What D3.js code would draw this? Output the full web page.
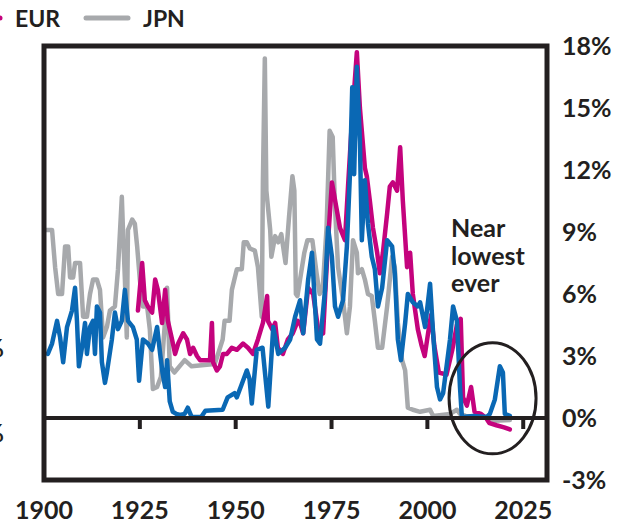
<!DOCTYPE html>
<html>
<head>
<meta charset="utf-8">
<script src="https://cdn.jsdelivr.net/npm/d3@7"></script>
<style>
  body { margin: 0; background: #fff; }
  svg { display: block; font-family: Lato, "Open Sans", sans-serif; font-weight: 700; }
</style>
</head>
<body>
<div id="chart"></div>
<script>
const width = 629
const height = 529

// short-term rates, %
const usaYears = [1901.0, 1902.1, 1903.4, 1904.2, 1905.0, 1906.0, 1907.3, 1908.1, 1908.6, 1909.1, 1909.9, 1910.7, 1911.2, 1912.0, 1912.8, 1913.3, 1913.8, 1914.6, 1915.1, 1915.9, 1916.4, 1917.7, 1918.5, 1919.3, 1920.3, 1921.1, 1921.9, 1923.2, 1924.2, 1924.8, 1925.8, 1927.1, 1928.2, 1929.5, 1930.3, 1930.9, 1931.6, 1932.1, 1932.8, 1933.6, 1934.5, 1935.5, 1936.7, 1937.5, 1938.5, 1941.0, 1942.1, 1946.6, 1947.9, 1949.7, 1950.3, 1951.5, 1952.9, 1953.6, 1954.2, 1955.5, 1957.0, 1958.5, 1959.8, 1961.1, 1962.9, 1964.2, 1965.5, 1966.8, 1967.6, 1968.9, 1969.9, 1971.2, 1972.0, 1973.3, 1974.1, 1975.1, 1975.9, 1976.7, 1978.0, 1979.0, 1979.8, 1980.4, 1980.9, 1981.6, 1982.4, 1982.9, 1983.7, 1984.5, 1985.5, 1986.3, 1987.1, 1988.2, 1989.5, 1990.8, 1991.5, 1992.3, 1993.1, 1994.2, 1994.9, 1996.2, 1997.5, 1998.1, 1999.4, 2000.7, 2001.5, 2002.5, 2003.3, 2004.1, 2005.9, 2006.7, 2007.7, 2008.5, 2009.0, 2012.0, 2015.5, 2016.3, 2017.6, 2018.9, 2019.7, 2020.2, 2021.5]
const usaRates = [3.1, 3.6, 4.7, 3.9, 2.7, 4.4, 5.2, 6.3, 4.7, 2.5, 3.4, 4.6, 3.1, 4.4, 4.7, 3.1, 5.4, 5.1, 2.7, 1.7, 2.2, 3.8, 5.1, 4.3, 4.7, 6.2, 4.7, 4.4, 3.8, 1.8, 3.8, 3.6, 3.3, 4.4, 3.1, 2.2, 1.5, 2.8, 0.8, 0.3, 0.2, 0.15, 0.2, 0.5, 0.05, 0.05, 0.35, 0.4, 1.0, 1.2, 1.0, 1.6, 2.3, 1.9, 0.7, 3.3, 3.4, 0.55, 4.4, 3.1, 3.4, 3.8, 4.9, 5.7, 4.1, 6.7, 8.0, 3.8, 3.6, 6.2, 9.2, 7.8, 5.4, 4.9, 5.7, 8.3, 11.8, 16.0, 11.8, 17.0, 13.4, 8.6, 11.5, 9.4, 7.8, 7.2, 5.4, 6.3, 8.6, 8.3, 7.0, 3.8, 2.8, 4.6, 6.0, 5.6, 5.4, 5.6, 4.4, 6.5, 4.1, 1.5, 0.9, 1.2, 3.8, 5.4, 4.7, 1.5, 0.05, 0.1, 0.05, 0.2, 0.9, 2.5, 2.2, 0.2, 0.1]

const eurYears = [1924.5, 1925.6, 1926.3, 1927.1, 1928.2, 1929.0, 1929.7, 1930.8, 1931.6, 1932.3, 1933.4, 1934.2, 1935.0, 1936.3, 1937.3, 1938.1, 1938.9, 1939.9, 1940.7, 1943.3, 1943.8, 1944.1, 1945.1, 1945.9, 1946.7, 1947.7, 1949.0, 1950.3, 1951.9, 1953.2, 1954.5, 1955.8, 1957.1, 1958.2, 1958.4, 1959.5, 1960.3, 1961.0, 1962.3, 1963.6, 1964.9, 1966.2, 1966.8, 1967.6, 1968.9, 1970.2, 1971.5, 1972.8, 1974.1, 1975.1, 1977.2, 1978.5, 1979.3, 1980.3, 1981.6, 1982.4, 1983.7, 1984.2, 1985.0, 1985.8, 1986.9, 1987.6, 1988.4, 1989.5, 1990.2, 1991.0, 1992.1, 1992.9, 1993.6, 1994.7, 1995.5, 1996.2, 1997.5, 1998.5, 1999.3, 2000.5, 2001.0, 2001.8, 2003.0, 2005.0, 2006.5, 2007.7, 2008.7, 2009.3, 2010.3, 2011.4, 2012.3, 2014.0, 2015.3, 2016.2, 2018.0, 2020.0, 2021.5]
const eurRates = [5.2, 7.5, 5.7, 5.4, 5.1, 6.7, 6.2, 4.6, 6.2, 4.7, 3.8, 3.1, 3.6, 4.1, 3.8, 3.1, 3.4, 3.0, 2.8, 2.8, 4.6, 2.7, 2.3, 2.5, 3.1, 3.1, 3.4, 3.3, 3.6, 3.4, 3.1, 3.8, 4.6, 5.9, 4.7, 4.3, 4.6, 3.4, 3.1, 3.8, 4.1, 4.7, 4.6, 4.1, 6.3, 6.0, 4.3, 4.1, 8.6, 11.4, 9.2, 8.6, 11.2, 14.3, 17.7, 15.0, 12.1, 11.7, 10.5, 9.2, 8.0, 7.0, 8.0, 9.9, 11.2, 11.4, 11.0, 13.1, 10.5, 7.3, 8.0, 6.0, 4.3, 3.5, 3.0, 4.5, 5.0, 3.5, 2.2, 2.1, 3.3, 4.5, 4.8, 1.0, 0.6, 1.5, 0.3, 0.2, 0.0, -0.25, -0.35, -0.45, -0.55]

const jpnYears = [1900.2, 1902.1, 1902.9, 1903.7, 1904.7, 1905.5, 1906.3, 1906.8, 1907.6, 1908.1, 1909.4, 1910.2, 1911.2, 1912.0, 1912.8, 1913.8, 1914.6, 1915.4, 1916.4, 1917.2, 1918.5, 1919.3, 1920.3, 1920.6, 1921.1, 1921.6, 1921.9, 1923.0, 1923.7, 1924.3, 1925.0, 1925.8, 1926.9, 1927.6, 1928.4, 1929.5, 1930.5, 1931.5, 1932.1, 1932.8, 1934.0, 1936.7, 1938.5, 1943.8, 1944.5, 1945.4, 1946.6, 1947.1, 1948.4, 1949.0, 1950.3, 1951.6, 1952.1, 1952.9, 1953.7, 1955.0, 1955.8, 1956.8, 1957.1, 1957.6, 1958.0, 1959.0, 1959.3, 1960.3, 1961.1, 1961.9, 1963.0, 1963.9, 1964.8, 1965.3, 1965.7, 1966.1, 1967.9, 1968.7, 1970.0, 1971.1, 1971.9, 1972.7, 1973.7, 1974.5, 1975.3, 1975.9, 1976.7, 1978.0, 1979.0, 1979.8, 1980.6, 1981.6, 1981.9, 1982.9, 1983.7, 1984.5, 1985.5, 1986.3, 1987.1, 1988.2, 1989.5, 1990.8, 1991.5, 1992.3, 1993.4, 1994.2, 1994.9, 1996.2, 1998.1, 2000.7, 2001.5, 2005.9, 2007.7, 2008.5, 2010.0, 2015.5, 2016.3, 2021.5]
const jpnRates = [9.1, 9.1, 7.3, 6.0, 6.0, 8.3, 8.3, 6.8, 6.8, 7.5, 7.5, 4.9, 4.9, 6.0, 6.7, 6.7, 6.2, 3.9, 4.4, 5.2, 5.4, 7.2, 10.7, 9.1, 6.7, 3.9, 9.1, 9.6, 9.4, 8.3, 6.7, 5.4, 5.4, 4.3, 1.4, 1.5, 2.0, 4.5, 6.3, 2.5, 2.2, 2.8, 2.5, 2.6, 2.6, 3.1, 3.8, 4.7, 4.7, 6.2, 7.2, 7.2, 8.5, 8.5, 8.2, 8.1, 7.3, 4.9, 11.5, 17.4, 11.0, 9.1, 7.8, 8.8, 8.5, 8.9, 7.5, 9.7, 11.7, 11.0, 6.0, 5.9, 8.0, 8.6, 8.6, 7.0, 6.0, 6.3, 9.2, 13.9, 13.6, 10.2, 7.3, 5.7, 4.1, 5.4, 8.6, 8.0, 7.0, 7.2, 6.7, 6.0, 5.9, 4.7, 3.4, 3.4, 5.4, 7.8, 7.3, 4.6, 2.8, 2.3, 0.5, 0.4, 0.3, 0.4, 0.1, 0.2, 0.4, 0.2, 0.1, 0.05, -0.15, -0.1]

const xTicks = [1900, 1925, 1950, 1975, 2000, 2025]
const yTicks = [-3, 0, 3, 6, 9, 12, 15, 18]
const legendNames = ["USA", "EUR", "JPN"]
const colors = { USA: "#0a68b4", EUR: "#c4037d", JPN: "#a7a9ac" }

const ink = "#231f20"

const svg = d3.select("#chart")
              .append("svg")
              .attr("width", width)
              .attr("height", height)

const x = d3.scaleLinear().domain([1900, 2031.2]).range([44, 547])
const y = d3.scaleLinear().domain([-3, 18]).range([480, 46])

const line = d3.line()
               .x(d => x(d[0]))
               .y(d => y(d[1]))

const series = [
  { name: "JPN", data: d3.zip(jpnYears, jpnRates) },
  { name: "EUR", data: d3.zip(eurYears, eurRates) },
  { name: "USA", data: d3.zip(usaYears, usaRates) }
]

svg.append("clipPath")
   .attr("id", "plot")
   .append("rect")
   .attr("x", x(1900)).attr("y", y(18))
   .attr("width", x(2031.2) - x(1900)).attr("height", y(-3) - y(18))

svg.append("g")
   .attr("clip-path", "url(#plot)")
   .selectAll("path")
   .data(series)
   .enter()
   .append("path")
   .attr("d", d => line(d.data))
   .attr("fill", "none")
   .attr("stroke", d => colors[d.name])
   .attr("stroke-width", 4.5)
   .attr("stroke-linejoin", "round")
   .attr("stroke-linecap", "round")

// zero line with decade ticks
svg.append("line")
   .attr("x1", x(1900)).attr("x2", x(2031.2))
   .attr("y1", y(0)).attr("y2", y(0))
   .attr("stroke", ink).attr("stroke-width", 4)

svg.append("g")
   .selectAll("line")
   .data(xTicks.slice(1))
   .enter()
   .append("line")
   .attr("x1", d => x(d)).attr("x2", d => x(d))
   .attr("y1", y(0)).attr("y2", y(0) + 11)
   .attr("stroke", ink).attr("stroke-width", 4)

// frame
svg.append("rect")
   .attr("x", x(1900)).attr("y", y(18))
   .attr("width", x(2031.2) - x(1900)).attr("height", y(-3) - y(18))
   .attr("fill", "none")
   .attr("stroke", ink)
   .attr("stroke-width", 5)

// axis labels
svg.append("g")
   .selectAll("text")
   .data(xTicks)
   .enter()
   .append("text")
   .attr("x", d => x(d))
   .attr("y", 519)
   .attr("text-anchor", "middle")
   .attr("font-size", 25)
   .attr("fill", ink)
   .text(d => d)

svg.append("g")
   .selectAll("text")
   .data(yTicks)
   .enter()
   .append("text")
   .attr("x", 562)
   .attr("y", d => y(d))
   .attr("dy", "0.36em")
   .attr("font-size", 25)
   .attr("fill", ink)
   .text(d => d + "%")

// left axis, mostly cut off by the frame of the picture
svg.append("g")
   .selectAll("text")
   .data(["3%", "0%"])
   .enter()
   .append("text")
   .attr("x", 4)
   .attr("y", (d, i) => 357 + 85 * i)
   .attr("text-anchor", "end")
   .attr("font-size", 25)
   .attr("fill", ink)
   .text(d => d)

// legend
const legend = svg.append("g")
                  .selectAll("g")
                  .data(legendNames)
                  .enter()
                  .append("g")
                  .attr("transform", (d, i) => "translate(" + (15 - 128 * (1 - i)) + ",0)")

legend.append("line")
      .attr("x1", -57).attr("x2", -15)
      .attr("y1", 18).attr("y2", 18)
      .attr("stroke", d => colors[d])
      .attr("stroke-width", 5)
      .attr("stroke-linecap", "round")

legend.append("text")
      .attr("x", 0)
      .attr("y", 27)
      .attr("font-size", 23)
      .attr("fill", ink)
      .text(d => d)

// annotation
const note = svg.append("g")

note.append("ellipse")
    .attr("cx", x(2017))
    .attr("cy", y(0.95))
    .attr("rx", 43.5)
    .attr("ry", 55.5)
    .attr("fill", "none")
    .attr("stroke", ink)
    .attr("stroke-width", 3)

note.append("text")
    .attr("font-size", 25)
    .attr("fill", ink)
    .selectAll("tspan")
    .data(["Near", "lowest", "ever"])
    .enter()
    .append("tspan")
    .attr("x", 451)
    .attr("y", (d, i) => 237 + 27.5 * i)
    .text(d => d)
</script>
</body>
</html>
